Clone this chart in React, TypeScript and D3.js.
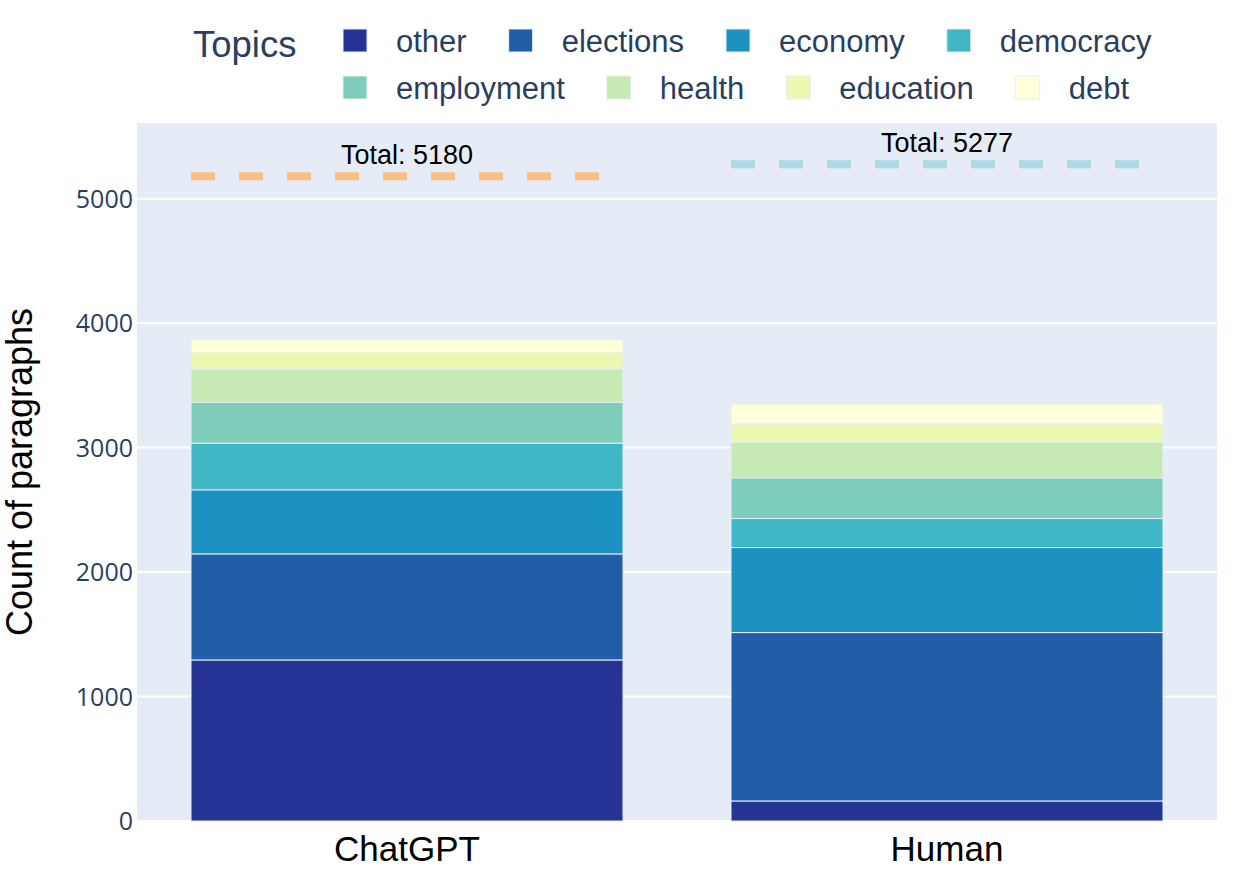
import * as d3 from 'd3';

const categories = ['ChatGPT', 'Human'];
const topics = ['other', 'elections', 'economy', 'democracy', 'employment', 'health', 'education', 'debt'];
const topicColors = ['#253494', '#225ea8', '#1d91c0', '#41b6c4', '#7fcdbb', '#c7e9b4', '#edf8b1', '#ffffd9'];
const chatgptCounts = [1294, 852, 515, 375, 327, 270, 127, 107];
const humanCounts = [161, 1353, 683, 233, 327, 284, 148, 161];
const totals = [5180, 5277];
const totalColors = ['#fdbf86', '#add8e6'];
const yTicks = [0, 1000, 2000, 3000, 4000, 5000];

const W = 1241;
const H = 881;
const margin = { top: 123, right: 24, bottom: 60, left: 137 };
const legendFont = "31px 'Liberation Sans', Arial, sans-serif";

function measure(text: string, font: string): number {
  const ctx = document.createElement('canvas').getContext('2d');
  if (!ctx) return text.length * 15;
  ctx.font = font;
  return ctx.measureText(text).width;
}

export default function App(): JSX.Element {
  const x = d3
    .scaleBand()
    .domain(categories)
    .range([margin.left, W - margin.right])
    .paddingInner(0.2)
    .paddingOuter(0.1);
  const y = d3.scaleLinear().domain([0, 5608]).range([H - margin.bottom, margin.top]);
  const color = d3.scaleOrdinal<string, string>().domain(topics).range(topicColors);

  const rows = categories.map((c, i) => {
    const counts = i === 0 ? chatgptCounts : humanCounts;
    const row: Record<string, number | string> = { category: c };
    topics.forEach((t, j) => (row[t] = counts[j]));
    return row;
  });
  const series = d3.stack<Record<string, number | string>>().keys(topics)(rows);

  // legend flow, 4 items per row like the plotly horizontal legend
  let lx = 343;
  const legendItems = topics.map((t, i) => {
    if (i % 4 === 0) lx = 343;
    const item = { t, x: lx, row: Math.floor(i / 4) };
    lx += 53 + measure(t, legendFont) + 42;
    return item;
  });

  return (
    <svg
      xmlns="http://www.w3.org/2000/svg"
      width={W}
      height={H}
      style={{ position: 'absolute', left: 0, top: 0, background: '#fff' }}
    >
      <rect
        x={margin.left}
        y={margin.top}
        width={W - margin.right - margin.left}
        height={H - margin.bottom - margin.top}
        fill="#e5ecf6"
      />
      {yTicks.map((t) => (
        <g key={t}>
          <line
            x1={margin.left}
            x2={W - margin.right}
            y1={y(t)}
            y2={y(t)}
            stroke="#fff"
            strokeWidth={2}
          />
          <text
            x={133}
            y={y(t)}
            dy="0.36em"
            textAnchor="end"
            fill="#2a3f5f"
            fontSize={25}
            fontFamily="'Open Sans', Verdana, sans-serif"
          >
            {t}
          </text>
        </g>
      ))}

      {series.map((s) => (
        <g key={s.key} fill={color(s.key)}>
          {s.map((d) => (
            <rect
              key={d.data.category as string}
              x={x(d.data.category as string)}
              y={y(d[1])}
              width={x.bandwidth()}
              height={y(d[0]) - y(d[1])}
              stroke="#e5ecf6"
              strokeWidth={1}
            />
          ))}
        </g>
      ))}

      {categories.map((c, i) => (
        <g key={c}>
          <line
            x1={x(c)}
            x2={(x(c) as number) + x.bandwidth()}
            y1={y(totals[i])}
            y2={y(totals[i])}
            stroke={totalColors[i]}
            strokeWidth={8}
            strokeDasharray="24,24"
          />
          <text
            x={(x(c) as number) + x.bandwidth() / 2}
            y={y(totals[i]) - 12}
            textAnchor="middle"
            fontSize={27}
            fontFamily="'Liberation Sans', Arial, sans-serif"
            fill="#000"
          >
            {`Total: ${totals[i]}`}
          </text>
          <text
            x={(x(c) as number) + x.bandwidth() / 2}
            y={861}
            textAnchor="middle"
            fontSize={35}
            fontFamily="'Liberation Sans', Arial, sans-serif"
            fill="#000"
          >
            {c}
          </text>
        </g>
      ))}

      <text
        transform={`translate(32,${(margin.top + H - margin.bottom) / 2}) rotate(-90)`}
        textAnchor="middle"
        fontSize={36}
        fontFamily="'Liberation Sans', Arial, sans-serif"
        fill="#000"
      >
        Count of paragraphs
      </text>

      <text x={193} y={57} fontSize={36.5} fontFamily="'Liberation Sans', Arial, sans-serif" fill="#2a3f5f">
        Topics
      </text>
      {legendItems.map((it) => (
        <g key={it.t} transform={`translate(${it.x},${52 + it.row * 47})`}>
          <rect x={0} y={-23} width={24} height={23} fill={color(it.t)} stroke="#e5ecf6" strokeWidth={1} />
          <text x={53} y={0} fontSize={31} fontFamily="'Liberation Sans', Arial, sans-serif" fill="#2a3f5f">
            {it.t}
          </text>
        </g>
      ))}
    </svg>
  );
}
